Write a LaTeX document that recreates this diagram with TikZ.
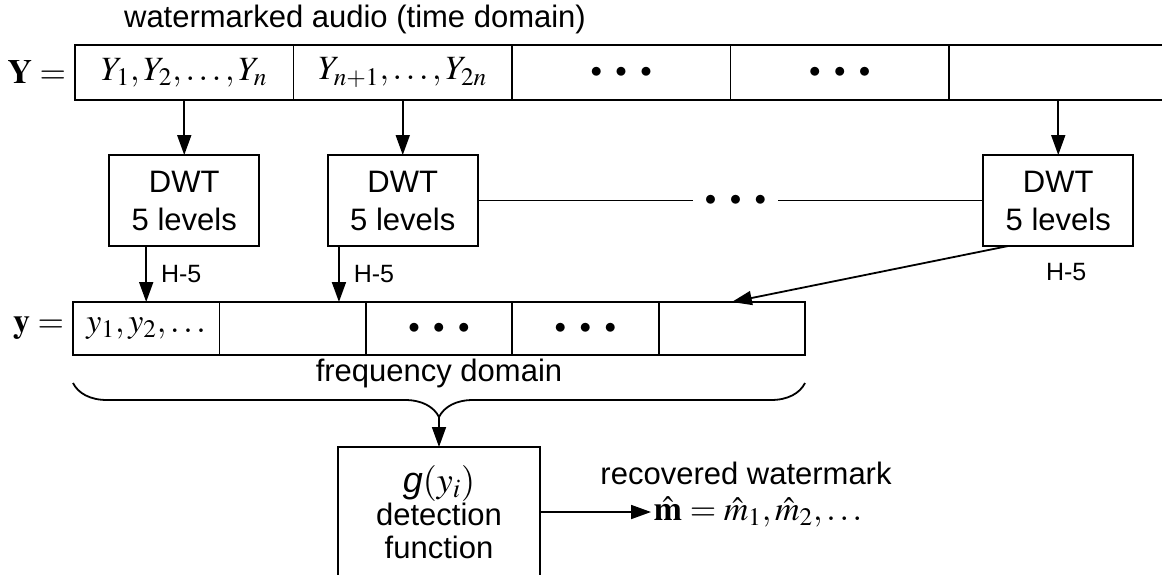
\documentclass[tikz,border=0pt]{standalone}
\usepackage{mathptmx}
\usepackage{fontspec}
\setmainfont{Liberation Sans}
\usetikzlibrary{arrows.meta,positioning,decorations.pathreplacing}

\tikzset{
  cellbox/.style={draw, minimum width=109.25pt, minimum height=27.5pt, inner sep=0pt, outer sep=0pt, font=\fontsize{17}{21}\selectfont},
  fcell/.style={draw, minimum width=73.2pt, minimum height=26.5pt, inner sep=0pt, outer sep=0pt, font=\fontsize{17}{21}\selectfont},
  dwtbox/.style={draw, minimum width=75pt, minimum height=45.5pt, align=center, inner sep=0pt, outer sep=0pt},
  detbox/.style={draw, minimum width=101pt, minimum height=65pt, align=center, inner sep=0pt, outer sep=0pt,
    font=\fontsize{15.5}{16.5}\selectfont},
  hlabel/.style={font=\fontsize{12.5}{15}\selectfont, inner sep=1pt},
  mathlabel/.style={font=\fontsize{17}{21}\selectfont, inner sep=1pt},
}
\newcommand{\threedots}{{\fontsize{11.5}{12}\selectfont$\bullet\;\;\bullet\;\;\bullet$}}

\begin{document}
\begin{tikzpicture}[x=0.5pt, y=-0.5pt, line width=0.9pt, >={Triangle[length=10pt,width=7pt]},
    font=\fontsize{15.5}{19}\selectfont]
  \useasboundingbox (0,0) rectangle (1162,574);
  % time domain
  \node (title) at (355,19) {watermarked audio (time domain)};
  \node[cellbox] (Y1) at (184.25,72.5) {$Y_1,Y_2,\ldots,Y_n$};
  \node[cellbox, right=0pt of Y1] (Y2) {$Y_{n+1},\ldots,Y_{2n}$};
  \node[cellbox, right=0pt of Y2] (Y3) {\threedots};
  \node[cellbox, right=0pt of Y3] (Y4) {\threedots};
  \node[cellbox, draw=none, right=0pt of Y4] (Y5) {};
  \draw (Y5.north west) -- (Y5.north east) (Y5.south west) -- (Y5.south east);
  \node[mathlabel, left=3pt of Y1] (Ylab) {$\mathbf{Y}=$};
  % wavelet transforms
  \node[dwtbox, below=27.5pt of Y1] (D1) {DWT\\5 levels};
  \node[dwtbox, below=27.5pt of Y2] (D2) {DWT\\5 levels};
  \node[dwtbox, below=27.5pt of Y5] (D3) {DWT\\5 levels};
  \foreach \a/\b in {Y1/D1,Y2/D2,Y5/D3} \draw[->] (\a) -- (\b);
  \draw (D2) -- node[fill=white, inner sep=6pt, pos=0.51] {\threedots} (D3);
  % frequency domain
  \node[fcell] (y1) at (146.2,328.5) {$y_1,y_2,\ldots$};
  \node[fcell, right=0pt of y1] (y2) {};
  \node[fcell, right=0pt of y2] (y3) {\threedots};
  \node[fcell, right=0pt of y3] (y4) {\threedots};
  \node[fcell, right=0pt of y4] (y5) {};
  \node[mathlabel, left=3pt of y1] (ylab) {$\mathbf{y}=$};
  \coordinate (h2) at ([xshift=5.6pt]D2.south west);
  \coordinate (h3) at ([xshift=12.5pt]D3.south west);
  \draw[->] (D1.south -| y1.north) -- node[hlabel, right=6pt] {H-5} (y1.north);
  \draw[->] (h2) -- node[hlabel, right=6pt] {H-5} (h2 |- y2.north);
  \draw[->] (h3) -- (y5.north);
  \node[hlabel, below=7pt of D3, xshift=4pt] (h3lab) {H-5};
  \node (freq) at ([yshift=-9pt]y3.south) {frequency domain};
  \draw[decorate, decoration={brace, mirror, amplitude=17pt}]
    ([yshift=-14pt]y1.south west) -- ([yshift=-14pt]y5.south east);
  \coordinate (btip) at ([yshift=-31pt]y3.south);
  % detection
  \node[detbox, below=15pt of btip] (det)
    {{\fontsize{18}{17}\selectfont$\textit{g}(y_i)$}\\detection\\function};
  \draw[->] (btip) -- (det);
  \node[mathlabel, anchor=west] (mhat) at ([xshift=55.5pt]det.east)
    {$\hat{\mathbf{m}}=\hat{m}_1,\hat{m}_2,\ldots$};
  \node[above=1pt of mhat, xshift=-6pt] (rec) {recovered watermark};
  \draw[->] (det.east) -- (mhat.west);
\end{tikzpicture}
\end{document}
